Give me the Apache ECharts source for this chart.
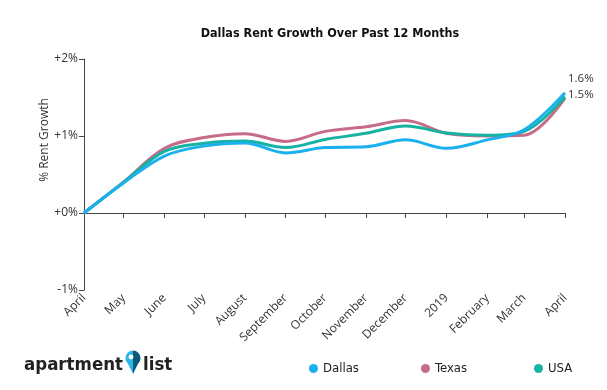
<!DOCTYPE html>
<html>
<head>
<meta charset="utf-8">
<style>html,body{margin:0;padding:0;background:#fff;}#c{width:607px;height:390px;}</style>
<script src="https://cdn.jsdelivr.net/npm/echarts@6/dist/echarts.min.js"></script>
</head>
<body>
<div id="c"></div>
<script>
var dates = ['2018-04-01','2018-05-01','2018-06-01','2018-07-01','2018-08-01','2018-09-01','2018-10-01','2018-11-01','2018-12-01','2019-01-01','2019-02-01','2019-03-01','2019-04-01'];
var monthLabels = ['April','May','June','July','August','September','October','November','December','2019','February','March','April'];
var dallas = [0, 0.39, 0.74, 0.87, 0.91, 0.78, 0.85, 0.86, 0.95, 0.84, 0.95, 1.08, 1.56];
var texas  = [0, 0.40, 0.84, 0.98, 1.03, 0.93, 1.06, 1.12, 1.20, 1.035, 1.00, 1.01, 1.49];
var usa    = [0, 0.40, 0.80, 0.905, 0.935, 0.85, 0.955, 1.035, 1.13, 1.04, 1.01, 1.06, 1.51];
var yTicks = [-1, 0, 1, 2];

var t0 = Date.UTC(2018, 3, 1);
function dayOf(s){ var p = s.split('-'); return Math.round((Date.UTC(+p[0], +p[1]-1, +p[2]) - t0) / 86400000); }
var days = dates.map(dayOf);
function pairs(vals){ return vals.map(function(v,i){ return [days[i], v]; }); }

var condensed = '"Liberation Sans Narrow", "DejaVu Sans Condensed", sans-serif';
var colors = {Dallas:'#1bb0ee', Texas:'#c76c88', USA:'#17b2a2'};

function legendFor(name, left){
  return {data:[name], left:left, top:357, icon:'circle', itemWidth:9, itemHeight:9, itemGap:6,
    textStyle:{fontFamily:condensed, fontSize:13, color:'#222'}, selectedMode:false};
}

var chart = echarts.init(document.getElementById('c'), null, {renderer:'canvas'});
chart.setOption({
  animation:false,
  color:[colors.Dallas, colors.Texas, colors.USA],
  title:{text:'Dallas Rent Growth Over Past 12 Months', top:22, left:325, textAlign:'center',
    textStyle:{fontFamily:condensed, fontWeight:'bold', fontSize:12.5, color:'#111'}},
  legend:[legendFor('Dallas',304), legendFor('Texas',416), legendFor('USA',529)],
  grid:{left:84, right:42, top:59, bottom:100},
  xAxis:{type:'value', min:days[0], max:days[days.length-1],
    splitLine:{show:false},
    axisLine:{lineStyle:{color:'#444', width:1}},
    axisTick:{customValues:days, length:5, lineStyle:{color:'#444'}},
    axisLabel:{customValues:days, rotate:45, fontSize:12, color:'#333', margin:6,
      fontFamily:'"Open Sans", sans-serif',
      formatter:function(v){ var i = days.indexOf(Math.round(v)); return i>=0 ? monthLabels[i] : ''; }}
  },
  yAxis:{type:'value', min:yTicks[0], max:yTicks[yTicks.length-1], interval:1,
    splitLine:{show:false},
    axisLine:{show:true, lineStyle:{color:'#444', width:1}},
    axisTick:{show:true, length:5, lineStyle:{color:'#444'}},
    axisLabel:{fontSize:12, color:'#333', margin:6, fontFamily:'"Open Sans", sans-serif',
      formatter:function(v){ return (v>=0?'+':'') + v + '%'; }}
  },
  graphic:[
    {type:'text', x:45, y:140, rotation:Math.PI/2, style:{text:'% Rent Growth', font:'12px "Open Sans", sans-serif', fill:'#333', textAlign:'center', textVerticalAlign:'middle'}},
    {type:'text', x:24, y:365, style:{text:'apartment', font:'bold 18.5px "DejaVu Sans Condensed", sans-serif', fill:'#222', textVerticalAlign:'middle', textAlign:'left'}},
    {type:'sector', shape:{cx:133, cy:358, r:7.5, r0:0, startAngle:Math.PI/2, endAngle:Math.PI*3/2, clockwise:true}, style:{fill:'#2bb5ea'}},
    {type:'polygon', shape:{points:[[125.6,359],[133,358],[133,374]]}, style:{fill:'#2bb5ea'}},
    {type:'sector', shape:{cx:133, cy:358, r:7.5, r0:0, startAngle:-Math.PI/2, endAngle:Math.PI/2, clockwise:true}, style:{fill:'#0d5a78'}},
    {type:'polygon', shape:{points:[[140.4,359],[133,358],[133,374]]}, style:{fill:'#0d5a78'}},
    {type:'circle', shape:{cx:131, cy:357, r:2.4}, style:{fill:'#fff'}},
    {type:'text', x:143, y:365, style:{text:'list', font:'bold 18.5px "DejaVu Sans Condensed", sans-serif', fill:'#222', textVerticalAlign:'middle', textAlign:'left'}}
  ],
  series:[
    {name:'Dallas', type:'line', data:pairs(dallas), smooth:0.35, symbol:'none', z:5,
     lineStyle:{width:3, color:colors.Dallas},
     endLabel:{show:true, distance:3, offset:[0,-14], fontSize:11.5, color:'#333', fontFamily:'"Open Sans", sans-serif',
       formatter:function(p){ return p.value[1].toFixed(1)+'%'; }}},
    {name:'Texas', type:'line', data:pairs(texas), smooth:0.35, symbol:'none', z:3,
     lineStyle:{width:3, color:colors.Texas},
     endLabel:{show:true, distance:3, offset:[0,-4], fontSize:11.5, color:'#333', fontFamily:'"Open Sans", sans-serif',
       formatter:function(p){ return p.value[1].toFixed(1)+'%'; }}},
    {name:'USA', type:'line', data:pairs(usa), smooth:0.35, symbol:'none', z:4,
     lineStyle:{width:3, color:colors.USA}}
  ]
});
</script>
</body>
</html>
